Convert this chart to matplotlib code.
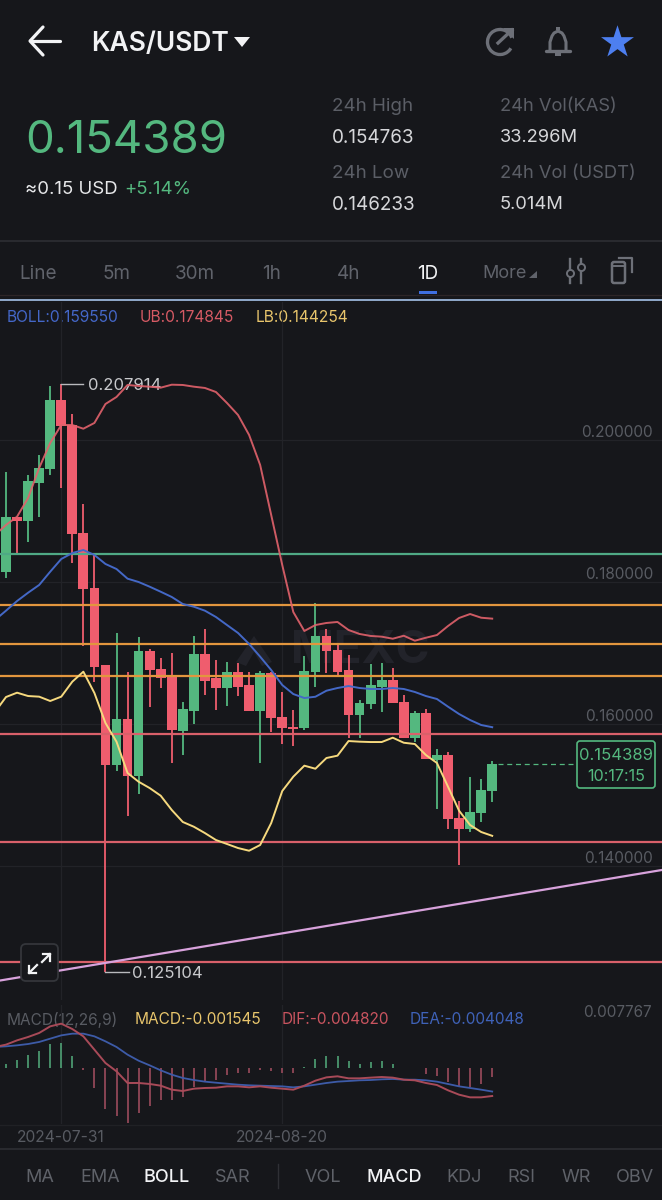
import numpy as np
import matplotlib
matplotlib.use('Agg')
import matplotlib.pyplot as plt
from matplotlib.patches import Arc, FancyBboxPatch, Polygon, Rectangle

# daily candles
open_p = [0.18141, 0.18920, 0.18864, 0.19399, 0.19592, 0.20563, 0.20211, 0.18694, 0.17915, 0.16831,
          0.15427, 0.16070, 0.15272, 0.17028, 0.16775, 0.16662, 0.15905, 0.16187, 0.16986, 0.16648,
          0.16503, 0.16732, 0.16549, 0.16187, 0.16718, 0.16103, 0.15962, 0.15944, 0.16732, 0.17244,
          0.17042, 0.16760, 0.16127, 0.16282, 0.16525, 0.16620, 0.16310, 0.15807, 0.16159, 0.15493,
          0.15563, 0.14676, 0.14525, 0.14746, 0.15056]
close_p = [0.18920, 0.18864, 0.19423, 0.19610, 0.20563, 0.20197, 0.18680, 0.17901, 0.16803, 0.15427,
           0.16070, 0.15272, 0.17028, 0.16760, 0.16648, 0.15915, 0.16211, 0.16986, 0.16605, 0.16507,
           0.16732, 0.16525, 0.16187, 0.16718, 0.16084, 0.15948, 0.15933, 0.16751, 0.17244, 0.17028,
           0.16737, 0.16127, 0.16300, 0.16549, 0.16620, 0.16296, 0.15807, 0.16159, 0.15507, 0.15563,
           0.14662, 0.14525, 0.14765, 0.15070, 0.15439]
high_p = [0.19549, 0.18920, 0.19507, 0.19789, 0.20765, 0.20791, 0.20366, 0.19099, 0.18380, 0.16831,
          0.17282, 0.16732, 0.17229, 0.17056, 0.16930, 0.17000, 0.16314, 0.17239, 0.17338, 0.16901,
          0.16873, 0.16859, 0.16732, 0.16746, 0.16732, 0.16455, 0.16197, 0.16958, 0.17704, 0.17338,
          0.17113, 0.16972, 0.16338, 0.16845, 0.16863, 0.16789, 0.16408, 0.16187, 0.16211, 0.15648,
          0.15610, 0.14920, 0.15253, 0.15225, 0.15476]
low_p = [0.18056, 0.18394, 0.18563, 0.18915, 0.19507, 0.19324, 0.18268, 0.17099, 0.16591, 0.12510,
         0.15342, 0.14708, 0.15014, 0.16244, 0.16507, 0.15450, 0.15563, 0.16000, 0.16408, 0.16197,
         0.16258, 0.16399, 0.16183, 0.15450, 0.15892, 0.15718, 0.15694, 0.15915, 0.16525, 0.16718,
         0.16680, 0.15807, 0.15807, 0.16211, 0.16169, 0.16296, 0.15807, 0.15751, 0.15507, 0.14803,
         0.14521, 0.14014, 0.14483, 0.14624, 0.14906]

# bollinger lines, first point is the day cut off at the left edge
boll_up = [0.18662, 0.18803, 0.18920, 0.19183, 0.19606, 0.19958, 0.20211, 0.20211, 0.20159, 0.20240, 0.20507,
           0.20606, 0.20775, 0.20761, 0.20751, 0.20737, 0.20779, 0.20775, 0.20751, 0.20733, 0.20676,
           0.20521, 0.20352, 0.20071, 0.19648, 0.18944, 0.18239, 0.17577, 0.17310, 0.17394, 0.17423,
           0.17437, 0.17324, 0.17268, 0.17240, 0.17230, 0.17201, 0.17243, 0.17173, 0.17215, 0.17253,
           0.17380, 0.17493, 0.17549, 0.17497, 0.17484]
boll_mid = [0.17465, 0.17596, 0.17732, 0.17849, 0.17958, 0.18145, 0.18324, 0.18408, 0.18451, 0.18380, 0.18254,
            0.18183, 0.18047, 0.18000, 0.17934, 0.17863, 0.17789, 0.17690, 0.17652, 0.17596, 0.17507,
            0.17394, 0.17282, 0.17127, 0.16948, 0.16760, 0.16549, 0.16422, 0.16366, 0.16384, 0.16469,
            0.16507, 0.16535, 0.16507, 0.16493, 0.16493, 0.16507, 0.16493, 0.16451, 0.16394, 0.16352,
            0.16244, 0.16141, 0.16056, 0.15986, 0.15955]
boll_low = [0.16169, 0.16380, 0.16441, 0.16394, 0.16385, 0.16324, 0.16385, 0.16596, 0.16737, 0.16437, 0.16014,
            0.15751, 0.15310, 0.15187, 0.15098, 0.14990, 0.14789, 0.14620, 0.14553, 0.14464, 0.14366,
            0.14310, 0.14253, 0.14215, 0.14296, 0.14605, 0.15056, 0.15258, 0.15413, 0.15370, 0.15521,
            0.15554, 0.15760, 0.15751, 0.15746, 0.15746, 0.15807, 0.15736, 0.15718, 0.15563, 0.15451,
            0.15117, 0.14779, 0.14577, 0.14479, 0.14425]

# user drawn levels
green_level = [0.18394]
orange_levels = [0.17680, 0.17125, 0.16676]
red_levels = [0.15854, 0.14341, 0.12648]
trend_prices = [0.12387, 0.13944]

# macd panel
macd_hist = [0.00075, 0.00143, 0.00230, 0.00287, 0.00419, 0.00430, 0.00212, -0.00030, -0.00344, -0.00706,
             -0.00821, -0.00947, -0.00775, -0.00648, -0.00557, -0.00557, -0.00499, -0.00327, -0.00230, -0.00201,
             -0.00126, -0.00086, -0.00086, -0.00029, -0.00057, -0.00086, -0.00086, 0.00011, 0.00155, 0.00212,
             0.00212, 0.00126, 0.00075, 0.00098, 0.00115, 0.00075, 0.00006, 0.00006, -0.00098, -0.00132,
             -0.00247, -0.00304, -0.00327, -0.00270, -0.00155]
dif = [0.00362, 0.00402, 0.00476, 0.00534, 0.00603, 0.00717, 0.00763, 0.00671, 0.00545, 0.00316, 0.00086,
       -0.00057, -0.00258, -0.00258, -0.00275, -0.00304, -0.00373, -0.00396, -0.00356, -0.00344, -0.00339,
       -0.00316, -0.00316, -0.00333, -0.00316, -0.00339, -0.00356, -0.00373, -0.00304, -0.00218, -0.00161,
       -0.00143, -0.00178, -0.00178, -0.00166, -0.00155, -0.00166, -0.00201, -0.00212, -0.00258, -0.00293,
       -0.00384, -0.00459, -0.00505, -0.00505, -0.00482]
dea = [0.00362, 0.00373, 0.00390, 0.00413, 0.00448, 0.00505, 0.00562, 0.00591, 0.00591, 0.00545, 0.00459,
       0.00362, 0.00230, 0.00126, 0.00046, -0.00040, -0.00115, -0.00172, -0.00207, -0.00235, -0.00253,
       -0.00270, -0.00287, -0.00298, -0.00304, -0.00310, -0.00316, -0.00333, -0.00316, -0.00287, -0.00258,
       -0.00235, -0.00224, -0.00212, -0.00207, -0.00195, -0.00189, -0.00201, -0.00201, -0.00212, -0.00235,
       -0.00275, -0.00316, -0.00344, -0.00373, -0.00405]

price_ticks = [0.20, 0.18, 0.16, 0.14]
date_idx = [5, 25]
date_labels = ['2024-07-31', '2024-08-20']

BG = '#16171b'
GRID = '#222328'
GREEN = '#54b87f'
RED = '#ef5d6e'
GREY = '#5b5e66'
LABEL = '#585b62'
WHITE = '#f2f3f5'
SOFT = '#d6d7da'
BLUE = '#4467c8'
ICON = '#6d7078'
FONT = 'Inter'

plt.rcParams['font.family'] = [FONT, 'DejaVu Sans']

W, H = 662, 1200
fig = plt.figure(figsize=(W / 100, H / 100), dpi=100, facecolor=BG)


def px_axes(top, bottom, z):
    # axes spanning the whole width between two pixel rows
    a = fig.add_axes([0, 1 - bottom / H, 1, (bottom - top) / H], zorder=z)
    a.patch.set_visible(False)
    a.axis('off')
    return a


ui = px_axes(0, H, 0)
ui.set_xlim(0, W)
ui.set_ylim(H, 0)
top = px_axes(0, H, 5)
top.set_xlim(0, W)
top.set_ylim(H, 0)


def txt(x, y, s, size, color, ha='left', weight='normal', on=ui):
    # va center sits a bit high for digits and capitals, push it down with the size
    on.text(x, y + size * 0.14, s, fontsize=size, color=color, ha=ha, va='center', fontweight=weight)


days = np.arange(len(open_p))
line_days = np.arange(-1, len(open_p))
xlim = (-6 / 11.05, (W - 6) / 11.05)

# price panel, 0.02 is 142 px
ax = px_axes(302, 1000, 2)
ax.set_xlim(xlim)
ax.set_ylim(0.14 - (1000 - 866) / 7100, 0.20 + (440 - 302) / 7100)
for p in price_ticks:
    ax.axhline(p, color=GRID, lw=0.9, zorder=1)
for i in date_idx:
    ax.axvline(i, color=GRID, lw=0.9, zorder=1)

colors = [GREEN if c >= o else RED for o, c in zip(open_p, close_p)]
ax.vlines(days, low_p, high_p, colors=colors, lw=1.3, zorder=2)
bottoms = np.minimum(open_p, close_p)
heights = np.abs(np.array(close_p) - np.array(open_p))
ax.bar(days, heights, bottom=bottoms, width=0.88, color=colors, zorder=3)

ax.plot(line_days, boll_up, color='#e2626c', lw=1.4, alpha=0.9, zorder=6)
ax.plot(line_days, boll_mid, color='#4468c6', lw=1.4, zorder=6)
ax.plot(line_days, boll_low, color='#f6d97e', lw=1.4, zorder=6)

ax.axhline(green_level[0], color='#4fa985', lw=1.6, zorder=5)
for p in orange_levels:
    ax.axhline(p, color='#e2963e', lw=1.6, zorder=5)
for p in red_levels:
    ax.axhline(p, color='#d9606a', lw=1.6, zorder=5)
ax.plot(xlim, trend_prices, color='#d8a2dc', lw=1.6, zorder=5)

# leaders to the extreme prices
ax.plot([days[5], days[5] + 2], [high_p[5], high_p[5]], color='#b9babd', lw=1, zorder=4)
ax.plot([days[9], days[9] + 2.1], [low_p[9], low_p[9]], color='#b9babd', lw=1, zorder=4)
ax.plot([days[-1] + 0.5, 52], [close_p[-1], close_p[-1]], color=GREEN, lw=0.9, ls=(0, (4, 3)), zorder=4)

# macd panel
mx = px_axes(1005, 1124, 2)
mx.set_xlim(xlim)
mx.set_ylim((1068 - 1124) / 5809, (1068 - 1005) / 5809)
for i in date_idx:
    mx.axvline(i, color=GRID, lw=0.9, zorder=1)
hist_colors = ['#4d9c72' if v >= 0 else '#96495a' for v in macd_hist]
mx.vlines(days, 0, macd_hist, colors=hist_colors, lw=1.25, zorder=2)
mx.plot(line_days, dea, color='#3d5ba8', lw=1.3, zorder=3)
mx.plot(line_days, dif, color='#a84a58', lw=1.4, zorder=4)

# header
ui.plot([31, 60], [41, 41], color=WHITE, lw=2.3, solid_capstyle='round')
ui.plot([43, 30, 43], [27, 41, 55], color=WHITE, lw=2.3, solid_capstyle='round', solid_joinstyle='round')
txt(91, 41, 'KAS/USDT', 19, WHITE, weight='semibold')
ui.add_patch(Polygon([[234, 37], [250, 37], [242, 47]], closed=True, color=WHITE, lw=0))
# refresh icon
ui.add_patch(Arc((500, 42), 25, 25, angle=0, theta1=-330, theta2=-20, color=ICON, lw=2.4))
ui.plot([498, 512], [43, 30], color=ICON, lw=2.4)
ui.add_patch(Polygon([[503, 28], [514, 28], [514, 39]], closed=True, color=ICON, lw=0))
# bell
ui.plot([550, 550, 552, 554, 558, 562, 564, 566, 566],
        [51, 42, 36, 33, 31, 33, 36, 42, 51], color=ICON, lw=2.2)
ui.plot([546, 570], [51, 51], color=ICON, lw=2.4, solid_capstyle='round')
ui.add_patch(Rectangle((555, 53), 6, 3, color=ICON, lw=0))
ui.add_patch(Rectangle((556, 27), 4, 3, color=ICON, lw=0))
ui.scatter([617], [42], marker='*', s=620, color='#4d7ff0', lw=0)

txt(25, 136, '0.154389', 32.8, GREEN)
txt(25, 188, '≈0.15 USD', 13.4, '#e6e7e9')
txt(124, 188, '+5.14%', 13.4, GREEN)

txt(332, 105, '24h High', 13.5, GREY)
txt(332, 136, '0.154763', 13.6, SOFT)
txt(332, 172, '24h Low', 13.5, GREY)
txt(332, 203, '0.146233', 13.6, SOFT)
txt(500, 105, '24h Vol(KAS)', 13.2, GREY)
txt(500, 136, '33.296M', 13.2, SOFT)
txt(500, 172, '24h Vol (USDT)', 13.2, GREY)
txt(500, 203, '5.014M', 13.2, SOFT)

ui.plot([0, W], [241, 241], color='#2a2b30', lw=1.4)

# time frame row
for x, s in zip([38, 116, 195, 272, 349], ['Line', '5m', '30m', '1h', '4h']):
    txt(x, 272, s, 13.6, '#60636b', ha='center')
txt(428, 272, '1D', 13.6, WHITE, ha='center')
txt(505, 272, 'More', 13, '#60636b', ha='center')
ui.add_patch(Polygon([[529, 278], [537, 271], [537, 278]], closed=True, color='#60636b', lw=0))
ui.add_patch(Rectangle((419, 291), 18, 2.6, color='#3f6fe0', lw=0))
# slider icon
for x, yc in zip([570, 581], [273, 267]):
    ui.plot([x, x], [259, 283], color=ICON, lw=1.7)
    ui.scatter([x], [yc], s=26, facecolor=BG, edgecolor=ICON, lw=1.4, zorder=3)
# rotate icon
ui.add_patch(FancyBboxPatch((612, 262), 13, 21, boxstyle='round,pad=0,rounding_size=2', fc='none',
                            ec=ICON, lw=1.8))
ui.plot([614, 623], [266, 266], color=ICON, lw=1.4)
ui.plot([619, 632, 632], [258, 258, 272], color=ICON, lw=1.6)

ui.plot([0, W], [295, 295], color='#2d2527', lw=0.9)
ui.plot([0, W], [300, 300], color='#a6c3ea', lw=1.2)

txt(7, 316, 'BOLL:0.159550', 11.2, BLUE)
txt(140, 316, 'UB:0.174845', 11.2, '#d65a64')
txt(256, 316, 'LB:0.144254', 11.2, '#e8c56c')

# watermark
ui.add_patch(Polygon([[236, 662], [254, 636], [272, 662], [262, 666], [254, 652], [246, 666]], closed=True,
                     color='#22232a', lw=0))
ui.text(360, 651, 'MEXC', fontsize=33, color='#22232a', ha='center', va='center', fontweight='bold')

for p, y in zip(['0.200000', '0.180000', '0.160000', '0.140000'], [431, 573, 715, 857]):
    txt(653, y, p, 11.1, LABEL, ha='right')
txt(88, 384, '0.207914', 12, '#c8c9cc')
txt(132, 972, '0.125104', 12, '#c8c9cc')

# last price tag
top.add_patch(FancyBboxPatch((577, 741), 78, 47, boxstyle='round,pad=0,rounding_size=3', fc=BG, ec=GREEN, lw=1.2))
txt(616, 754, '0.154389', 12, GREEN, ha='center', on=top)
txt(616, 775, '10:17:15', 11.6, GREEN, ha='center', on=top)

# expand button
top.add_patch(FancyBboxPatch((21, 944), 37, 37, boxstyle='round,pad=0,rounding_size=5', fc=BG, ec='#34363b', lw=1.3))
top.plot([29, 37], [973, 965], color=WHITE, lw=1.6)
top.plot([29, 29, 36], [966, 973, 973], color=WHITE, lw=1.6)
top.plot([50, 42], [954, 962], color=WHITE, lw=1.6)
top.plot([43, 50, 50], [954, 954, 961], color=WHITE, lw=1.6)

txt(7, 1018, 'MACD(12,26,9)', 11.1, LABEL)
txt(135, 1018, 'MACD:-0.001545', 11.1, '#e8c56c')
txt(282, 1018, 'DIF:-0.004820', 11.1, '#c9545f')
txt(410, 1018, 'DEA:-0.004048', 11.1, '#3f62b8')
txt(652, 1011, '0.007767', 11, LABEL, ha='right')

ui.plot([0, W], [1124.5, 1124.5], color='#202125', lw=0.9)
for i, s in zip(date_idx, date_labels):
    txt(6 + 11.05 * i, 1136, s, 11.25, LABEL, ha='center')
ui.plot([0, W], [1149, 1149], color='#2a2b30', lw=1.4)

# indicator tabs
for x, s in zip([40, 100, 233, 323, 464, 521, 576, 635], ['MA', 'EMA', 'SAR', 'VOL', 'KDJ', 'RSI', 'WR', 'OBV']):
    txt(x, 1176, s, 13, '#5f6269', ha='center')
txt(167, 1176, 'BOLL', 13, WHITE, ha='center', weight='medium')
txt(394, 1176, 'MACD', 13, WHITE, ha='center', weight='medium')
ui.plot([278, 278], [1164, 1188], color='#2f3035', lw=1)

fig.savefig('out.png', dpi=100, facecolor=BG)
